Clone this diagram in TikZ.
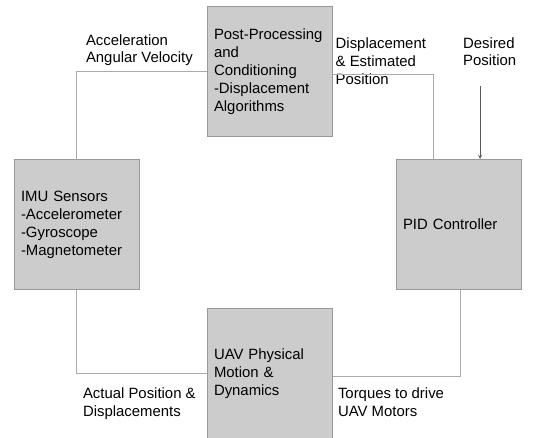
\documentclass[tikz,border=0pt]{standalone}
\usepackage{fontspec}
\setmainfont{Liberation Sans}
\usetikzlibrary{arrows,positioning}
\definecolor{boxfill}{HTML}{CCCCCC}
\definecolor{boxline}{HTML}{999999}
\definecolor{wiregray}{HTML}{ABABAB}
\definecolor{tipgray}{HTML}{5A5A5A}

\begin{document}
\begin{tikzpicture}[x=1pt,y=1pt,>=stealth,every node/.style={font=\fontsize{14.9}{17.9}\selectfont, align=left},
	block/.style={shape=rectangle, draw=boxline, fill=boxfill, line width=1pt, minimum width=125pt, minimum height=130pt, text width=111pt, inner xsep=7pt},
	lbl/.style={inner sep=0pt},
	wire/.style={draw=wiregray, line width=1pt},]
	\useasboundingbox (0,0) rectangle (540,-437);
	% create the nodes
	\node (imu)[block] at (76.5,-224.5) {IMU Sensors\\-Accelerometer\\-Gyroscope\\-Magnetometer};
	\node (post)[block, above right = 22pt and 67pt of imu]{Post-Processing\\and\\Conditioning\\-Displacement\\Algorithms};
	\node (pid)[block, right = 256pt of imu]{PID Controller};
	\node (uav)[block, below right = 18pt and 67pt of imu]{UAV Physical\\Motion \&\\Dynamics};
	\node (disp)[lbl, below right = 31.5pt and 3pt of post.north east]{Displacement\\\& Estimated\\Position};
	\node (want)[lbl, anchor=north west] at (463,-37) {Desired\\Position};
	\coordinate (wantin) at ([xshift=17pt, yshift=-20pt]want.south west);

	% connect the nodes
	\draw[wire] (post.west) -| node[lbl, anchor=south west, xshift=9pt, yshift=5pt] (acc) {Acceleration\\Angular Velocity} (imu.north);
	\draw[wire] ([yshift=-3pt]post.east) -| ([xshift=-25pt]pid.north);
	\draw[->, draw=tipgray, fill=tipgray, line width=0.8pt] (wantin) -- (wantin |- pid.north);
	\draw[wire] (imu.south) |- node[lbl, anchor=north west, xshift=6pt, yshift=-14pt] (act) {Actual Position \&\\Displacements} (uav.west);
	\draw[wire] ([xshift=2pt]pid.south) |- node[lbl, at end, anchor=north west, xshift=5pt, yshift=-11pt] (torq) {Torques to drive\\UAV Motors} ([yshift=-3pt]uav.east);

\end{tikzpicture}
\end{document}
